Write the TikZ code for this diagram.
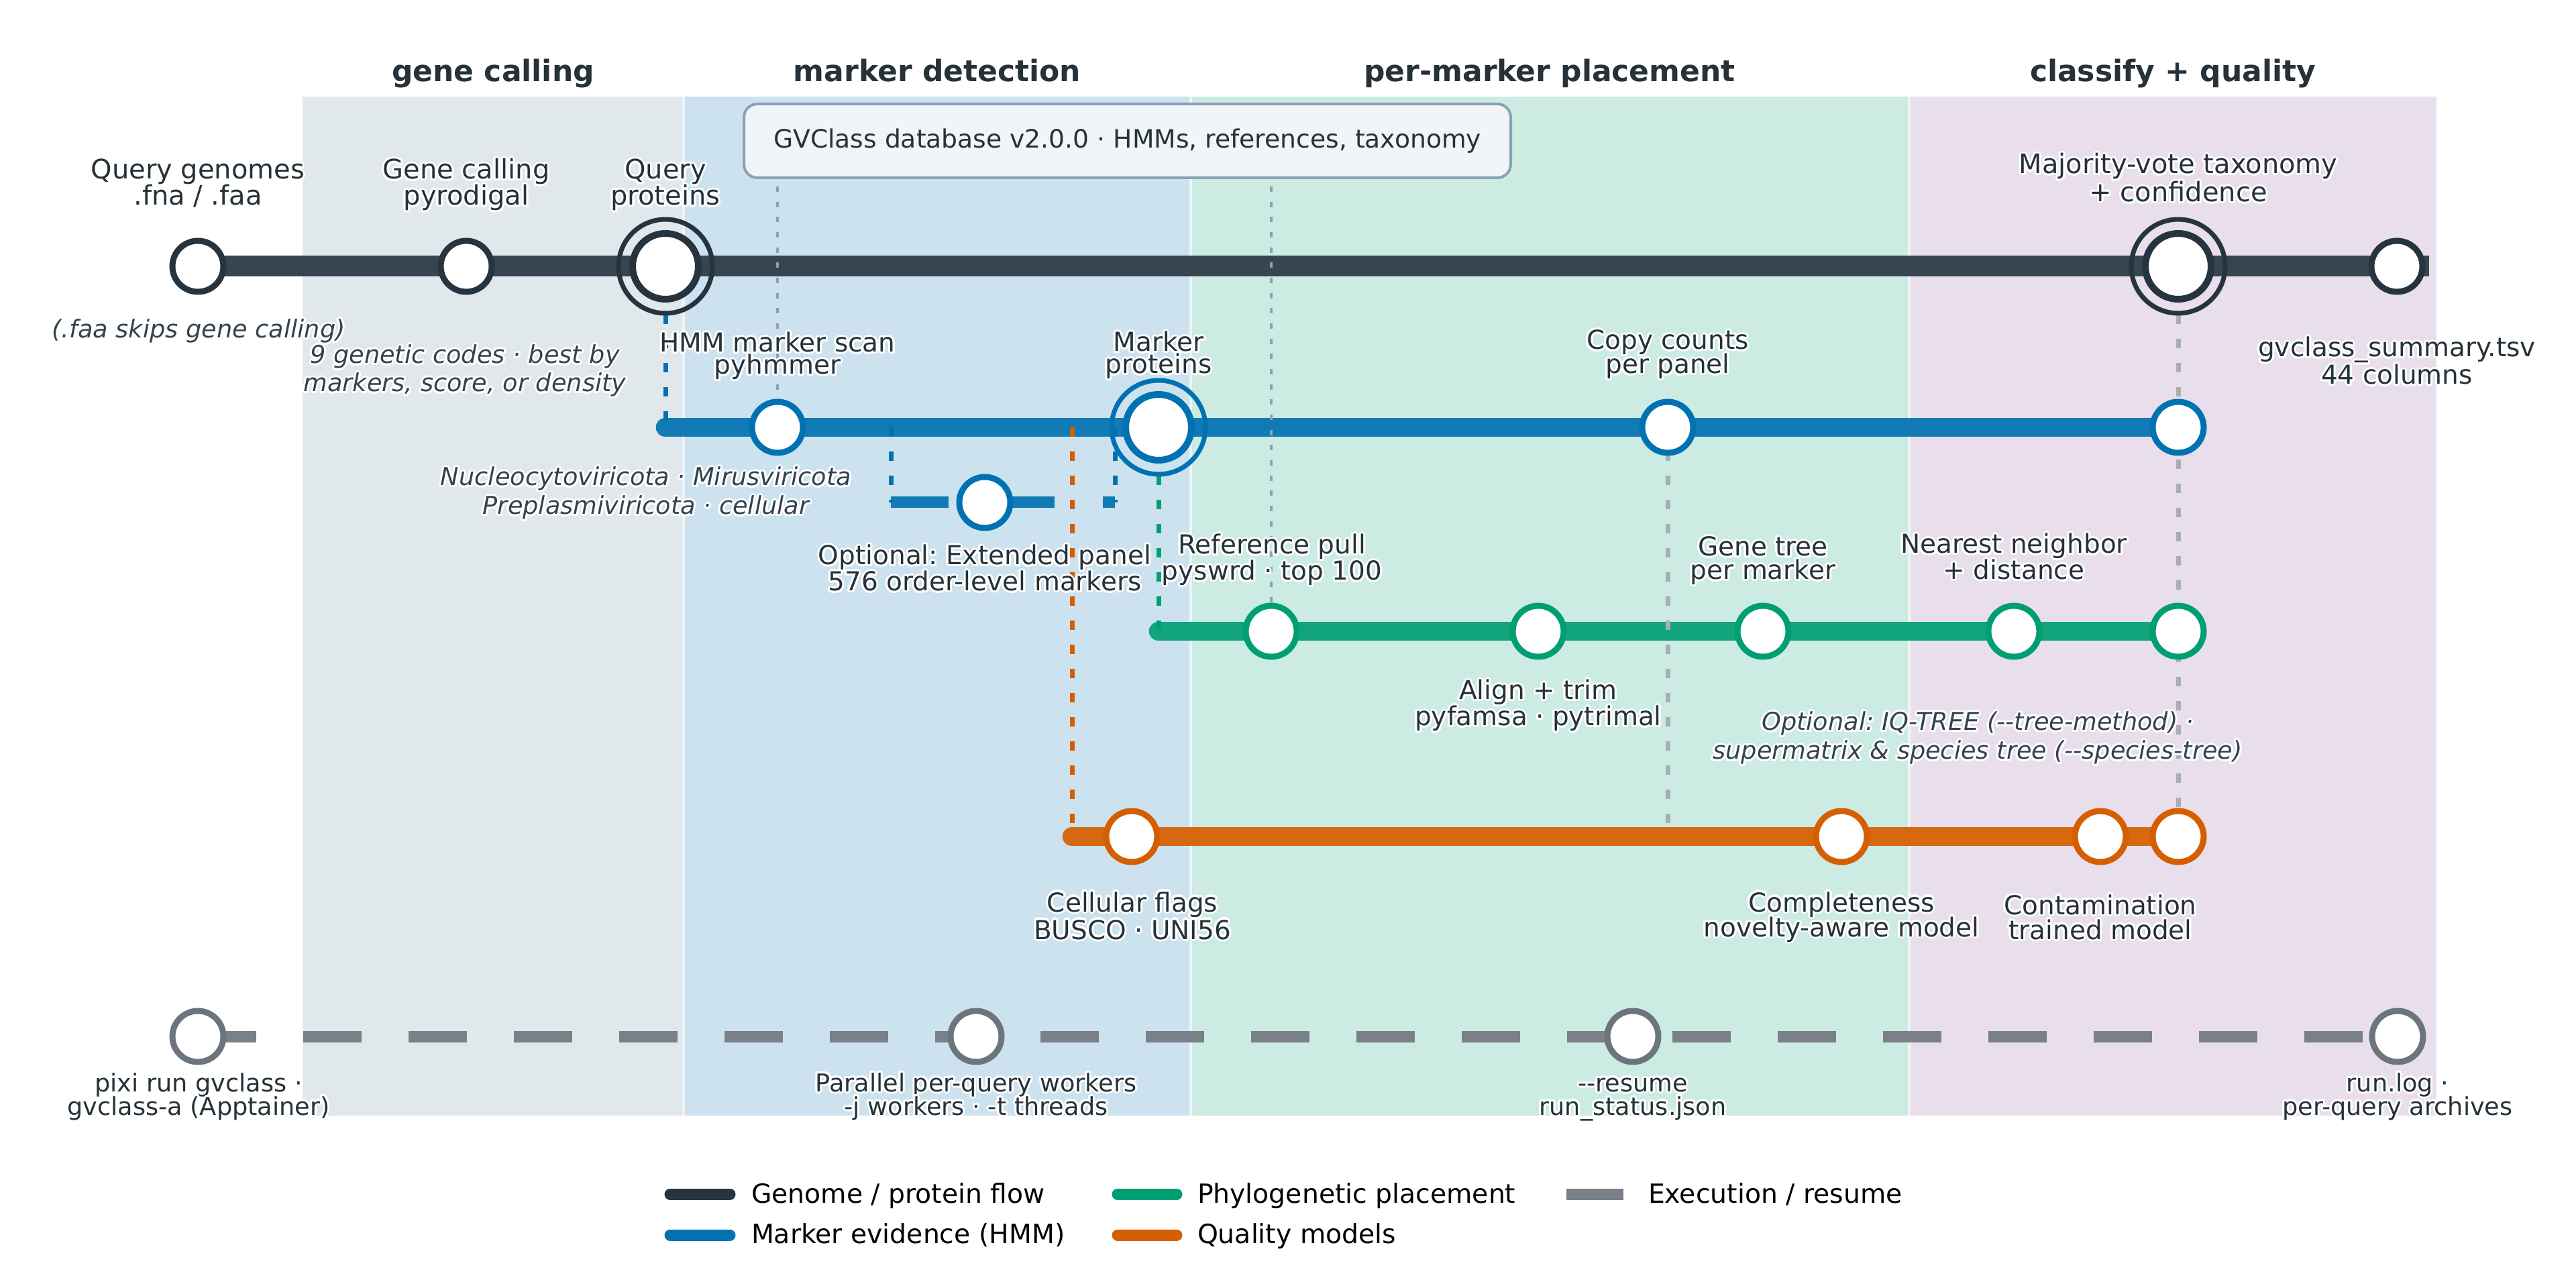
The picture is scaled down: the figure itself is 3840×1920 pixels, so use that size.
\documentclass[tikz,border=0pt]{standalone}
\usepackage{fontspec}
\usepackage{contour}
\newfontfamily\dvs{DejaVu Sans}[ItalicFont={DejaVu Sans Oblique},BoldFont={DejaVu Sans Bold}]
\contourlength{0.9pt}
\contournumber{20}
\pgfdeclarelayer{bg}
\pgfdeclarelayer{lines}
\pgfdeclarelayer{conns}
\pgfsetlayers{bg,lines,conns,main}
\definecolor{ink}{HTML}{263238}
\definecolor{note}{HTML}{34434F}
\definecolor{bandA}{HTML}{E1E8EC}
\definecolor{bandB}{HTML}{CCE2EF}
\definecolor{bandC}{HTML}{CCEBE2}
\definecolor{bandD}{HTML}{E9DEEC}
\definecolor{cDark}{HTML}{263440}
\definecolor{lDark}{HTML}{36454F}
\definecolor{cBlue}{HTML}{0072B2}
\definecolor{lBlue}{HTML}{127AB5}
\definecolor{cGreen}{HTML}{009E73}
\definecolor{lGreen}{HTML}{12A57B}
\definecolor{cOrange}{HTML}{D55E00}
\definecolor{lOrange}{HTML}{D66810}
\definecolor{cGray}{HTML}{6C757D}
\definecolor{lGray}{HTML}{7A8088}
\definecolor{dbEdge}{HTML}{8BA1B4}
\definecolor{dbFill}{HTML}{F1F5F9}
\definecolor{vGray}{HTML}{A7AEB4}
\newcommand\twol[3][11pt]{\vtop{\baselineskip=#1\lineskiplimit=-20pt\lineskip=0pt\halign{\hfil##\hfil\cr\contour{white}{#2}\cr\contour{white}{#3}\cr}}}
\newcommand\onel[1]{\contour{white}{#1}}
\begin{document}
\frenchspacing
\begin{tikzpicture}[x=0.3pt,y=-0.3pt,
  font=\dvs,
  every node/.style={inner sep=0pt, outer sep=0pt},
  lab/.style={font=\dvs\fontsize{11.7pt}{13pt}\selectfont, text=ink, anchor=base},
  labtop/.style={font=\dvs\fontsize{12pt}{13pt}\selectfont, text=ink, anchor=base},
  ital/.style={font=\dvs\itshape\fontsize{11pt}{13pt}\selectfont, text=note, anchor=base},
  exl/.style={font=\dvs\fontsize{11pt}{13pt}\selectfont, text=ink, anchor=base},
  hdr/.style={font=\dvs\bfseries\fontsize{13.2pt}{15pt}\selectfont, text=ink, anchor=base},
  leg/.style={font=\dvs\fontsize{11.8pt}{14pt}\selectfont, text=black, anchor=base west},
  stn/.style={circle, fill=white, line width=2.7pt, minimum size=22.8pt},
  bign/.style={circle, fill=white, line width=3pt, minimum size=29.4pt},
  ring/.style={line width=2.1pt},
  conn/.style={line width=2.1pt, dash pattern=on 4.2pt off 6.6pt},
  dbconn/.style={draw=dbEdge, line width=1.3pt, dash pattern=on 2.4pt off 4.4pt},
  rowline/.style={line width=8.6pt, line cap=round},
  exline/.style={draw=lGray, line width=5.1pt, dash pattern=on 26.1pt off 21pt},
  swatch/.style={line width=5.1pt, line cap=round},
]
\useasboundingbox (0,0) rectangle (3840,1920);
\begin{pgfonlayer}{bg}
\fill[white] (0,0) rectangle (3840,1920);
\fill[bandA] (451,144) rectangle (1019,1663);
\fill[bandB] (1019,144) rectangle (1775,1663);
\fill[bandC] (1775,144) rectangle (2846,1663);
\fill[bandD] (2846,144) rectangle (3632,1663);
\draw[white, opacity=0.6, line width=1.2pt] (1019,144) -- (1019,1663) (1775,144) -- (1775,1663) (2846,144) -- (2846,1663);
\node[draw=dbEdge, fill=dbFill, line width=1.2pt, rounded corners=6pt, minimum width=342.9pt, minimum height=33pt, font=\dvs\fontsize{11.3pt}{13pt}\selectfont, text=ink] (db) at (1680.5,210) {GVClass database v2.0.0 · HMMs, references, taxonomy};
\end{pgfonlayer}

% headers
\node[hdr] (h1) at (735,122) {gene calling};
\node[hdr] (h2) at (1397,122) {marker detection};
\node[hdr] (h3) at (2310,122) {per-marker placement};
\node[hdr] (h4) at (3239,122) {classify + quality};

% helper coordinates
\coordinate (r1e) at (3621,397);
\coordinate (m0) at (992,637);
\coordinate (bA) at (1328,637);
\coordinate (bB) at (1662,637);
\coordinate (sA) at (1328,749);
\coordinate (sB) at (1662,749);
\coordinate (p0) at (1727,941);
\coordinate (oA) at (1598,637);
\coordinate (c0) at (1598,1247);
\coordinate (gA) at (2486,1247);
\coordinate (dbA) at (1159,278);
\coordinate (dbB) at (1895,278);

% row 1 nodes
\node[stn, draw=cDark] (q1) at (295,397) {};
\node[stn, draw=cDark] (q2) at (695,397) {};
\node[bign, draw=cDark] (q3) at (992,397) {};
\node[bign, draw=cDark] (q4) at (3247,397) {};
\node[stn, draw=cDark] (q5) at (3573,397) {};
\draw[ring, cDark] (q3.center) circle[radius=21pt];
\draw[ring, cDark] (q4.center) circle[radius=21pt];
% row 2
\node[stn, draw=cBlue] (m1) at (1159,637) {};
\node[bign, draw=cBlue] (m2) at (1727,637) {};
\node[stn, draw=cBlue] (m3) at (2486,637) {};
\node[stn, draw=cBlue] (m4) at (3247,637) {};
\draw[ring, cBlue] (m2.center) circle[radius=21pt];
\node[stn, draw=cBlue] (s1) at (1468,749) {};
% row 3
\node[stn, draw=cGreen] (p1) at (1895,941) {};
\node[stn, draw=cGreen] (p2) at (2293,941) {};
\node[stn, draw=cGreen] (p3) at (2628,941) {};
\node[stn, draw=cGreen] (p4) at (3002,941) {};
\node[stn, draw=cGreen] (p5) at (3247,941) {};
% row 4
\node[stn, draw=cOrange] (c1) at (1687,1247) {};
\node[stn, draw=cOrange] (c2) at (2745,1247) {};
\node[stn, draw=cOrange] (c3) at (3131,1247) {};
\node[stn, draw=cOrange] (c4) at (3247,1247) {};
% row 5
\node[stn, draw=cGray] (e1) at (295,1545) {};
\node[stn, draw=cGray] (e2) at (1455,1545) {};
\node[stn, draw=cGray] (e3) at (2434,1545) {};
\node[stn, draw=cGray] (e4) at (3574,1545) {};

\begin{pgfonlayer}{lines}
\draw[lDark, line width=9.3pt] (q1.center) -- (r1e);
\draw[rowline, lBlue] (m0) -- (m4.center);
\draw[lBlue, line width=5.1pt, dash pattern=on 25.8pt off 21.6pt] (sA) -- (sB);
\draw[rowline, lGreen] (p0) -- (p5.center);
\draw[rowline, lOrange] (c0) -- (c4.center);
\draw[exline] (e1.center) -- (e4.center);
\end{pgfonlayer}

\begin{pgfonlayer}{conns}
\draw[conn, cBlue] (q3.center) -- (m0);
\draw[conn, cBlue] (bA) -- (sA);
\draw[conn, cBlue] (bB) -- (sB);
\draw[conn, cGreen] (m2.center) -- (p0);
\draw[conn, cOrange] (oA) -- (c0);
\draw[conn, vGray] (m3.center) -- (gA);
\draw[conn, vGray] (q4.center) -- (c4.center);
\draw[dbconn] (dbA) -- (m1.center);
\draw[dbconn] (dbB) -- (p1.center);
\end{pgfonlayer}

% labels
\node[labtop] (t_q1) at (295,267) {\twol[11.7pt]{Query genomes}{.fna / .faa}};
\node[labtop] (t_q2) at (695,267) {\twol[11.7pt]{Gene calling}{pyrodigal}};
\node[labtop] (t_q3) at (992,267) {\twol[11.7pt]{Query}{proteins}};
\node[labtop] (t_q4) at (3247,259) {\twol[12.6pt]{Majority-vote taxonomy}{+ confidence}};
\node[ital] (t_faa) at (296,504) {\onel{(.faa skips gene calling)}};
\node[ital] (t_gc) at (693,542) {\twol[12.6pt]{9 genetic codes · best by}{markers, score, or density}};
\node[lab] (t_q5) at (3573,532) {\twol[12.3pt]{gvclass\_summary.tsv}{44 columns}};
\node[lab] (t_m1) at (1159,525) {\twol[9.9pt]{HMM marker scan}{pyhmmer}};
\node[lab] (t_m2) at (1727,524) {\twol[9.9pt]{Marker}{proteins}};
\node[lab] (t_m3) at (2486,521) {\twol[10.8pt]{Copy counts}{per panel}};
\node[ital] (t_tax) at (963,724) {\twol[12.9pt]{Nucleocytoviricota · Mirusviricota}{Preplasmiviricota · cellular}};
\node[lab] (t_s1) at (1468,842) {\twol[11.7pt]{Optional: Extended panel}{576 order-level markers}};
\node[lab] (t_p1) at (1896,826) {\twol[11.7pt]{Reference pull}{pyswrd · top 100}};
\node[lab] (t_p3) at (2628,829) {\twol[10.5pt]{Gene tree}{per marker}};
\node[lab] (t_p4) at (3002,825) {\twol[11.7pt]{Nearest neighbor}{+ distance}};
\node[lab] (t_p2) at (2293,1043) {\twol[11.7pt]{Align + trim}{pyfamsa · pytrimal}};
\node[ital] (t_iq) at (2948,1089) {\twol[12.9pt]{Optional: IQ-TREE (--tree-method) ·}{supermatrix \& species tree (--species-tree)}};
\node[lab] (t_c1) at (1688,1359) {\twol[12.3pt]{Cellular flags}{BUSCO · UNI56}};
\node[lab] (t_c2) at (2745,1359) {\twol[11.1pt]{Completeness}{novelty-aware model}};
\node[lab] (t_c3) at (3131,1363) {\twol[11.1pt]{Contamination}{trained model}};
\node[exl] (t_e1) at (296,1627) {\twol[10.5pt]{pixi run gvclass ·}{gvclass-a (Apptainer)}};
\node[exl] (t_e2) at (1455,1627) {\twol[10.5pt]{Parallel per-query workers}{-j workers · -t threads}};
\node[exl] (t_e3) at (2434,1627) {\twol[10.5pt]{--resume}{run\_status.json}};
\node[exl] (t_e4) at (3574,1627) {\twol[10.5pt]{run.log ·}{per-query archives}};

% legend
\draw[swatch, cDark] (999,1780) -- (1088,1780);
\node[leg] (lt1) at (1120,1793) {Genome / protein flow};
\draw[swatch, cBlue] (999,1841) -- (1088,1841);
\node[leg] (lt2) at (1120,1853) {Marker evidence (HMM)};
\draw[swatch, cGreen] (1666,1780) -- (1754,1780);
\node[leg] (lt3) at (1785,1793) {Phylogenetic placement};
\draw[swatch, cOrange] (1666,1841) -- (1754,1841);
\node[leg] (lt4) at (1785,1853) {Quality models};
\draw[lGray, line width=5.1pt] (2335,1780) -- (2420,1780);
\node[leg] (lt5) at (2457,1793) {Execution / resume};
\end{tikzpicture}
\end{document}
